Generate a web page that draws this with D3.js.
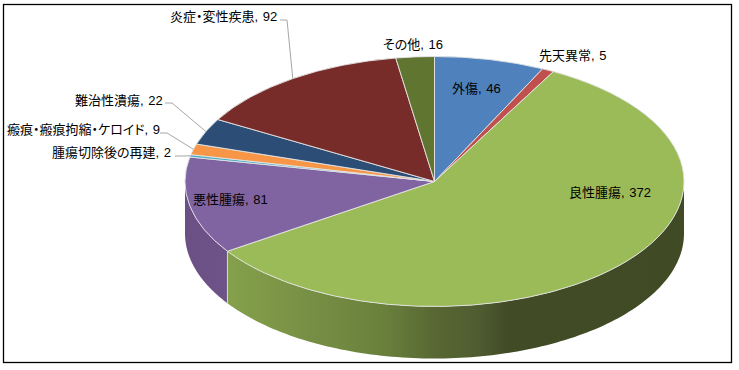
<!DOCTYPE html>
<html lang="ja">
<head>
<meta charset="utf-8">
<style>
html,body{margin:0;padding:0;background:#fff;overflow:hidden}
svg{display:block}
text{font-family:"Liberation Sans","Noto Sans CJK JP",sans-serif;font-size:13px;fill:#000;dominant-baseline:central;text-anchor:start;font-feature-settings:"palt";word-spacing:1px}
</style>
<script src="https://cdn.jsdelivr.net/npm/d3@7"></script>
</head>
<body>
<svg id="c" width="739" height="370"></svg>
<script>
const categories = ["外傷","先天異常","良性腫瘍","悪性腫瘍","腫瘍切除後の再建","瘢痕・瘢痕拘縮・ケロイド","難治性潰瘍","炎症・変性疾患","その他"];
const values = [46,5,372,81,2,9,22,92,16];
const colors = ["#4f81bd","#c0504d","#9bbb59","#8064a2","#4bacc6","#f79646","#2c4d75","#772c2a","#5f7530"];

const W=739,H=370,cx=434.5,cy=181.5,rx=249.5,ry=125,depth=52;
// label left/centre (layout), leader elbow (layout)
const labelPos = [[452,88],[539,55],[569,192],[193,199],[52,152],[7,129],[75,100],[170,16],[383,44]];
const leaderFrom = [null,null,null,null,[175,156],[160,133],[165,103],[280,20],null];
const elbowLen = 7;

const svg=d3.select("#c");
svg.append("rect").attr("x",3.5).attr("y",4.5).attr("width",728).attr("height",358)
  .attr("fill","#fff").attr("stroke","#000").attr("stroke-width",1.3);

const defs=svg.append("defs");
function sideGrad(id,stops){
  const g=defs.append("linearGradient").attr("id",id).attr("gradientUnits","userSpaceOnUse")
    .attr("x1",cx-rx).attr("x2",cx+rx).attr("y1",0).attr("y2",0);
  stops.forEach(s=>g.append("stop").attr("offset",s[0]).attr("stop-color",s[1]));
}
sideGrad("gGreen",[[0,"#8aa84f"],[0.09,"#84a04b"],[0.25,"#778f44"],[0.4,"#69803c"],[0.5,"#586733"],[0.58,"#515d31"],[0.65,"#414b26"],[1,"#404a24"]]);
sideGrad("gPurple",[[0,"#6b5085"],[0.09,"#6e5388"],[1,"#6e5388"]]);

const pie=d3.pie().value(d=>d).sort(null);
const arcs=pie(values);
const px=a=>cx+rx*Math.sin(a), py=a=>cy-ry*Math.cos(a);

// side wall
const lineGen=d3.line().x(d=>d[0]).y(d=>d[1]);
const front=arcs.map((d,i)=>({i,a0:Math.max(d.startAngle,Math.PI/2),a1:Math.min(d.endAngle,3*Math.PI/2)})).filter(d=>d.a1>d.a0);
const fills={2:"url(#gGreen)",3:"url(#gPurple)"};
front.forEach(f=>{
  const n=120, angs=d3.range(n+1).map(k=>f.a0+(f.a1-f.a0)*k/n);
  const pts=angs.map(a=>[px(a),py(a)]).concat(angs.slice().reverse().map(a=>[px(a),py(a)+depth]));
  svg.append("path").attr("d",lineGen(pts)+"Z").attr("fill",fills[f.i]||colors[f.i]);
});
// wall seam
const seam=arcs[2].endAngle;
svg.append("line").attr("x1",px(seam)).attr("x2",px(seam)).attr("y1",py(seam)).attr("y2",py(seam)+depth)
  .attr("stroke","#d8dccf").attr("stroke-width",1);

// top
const arc=d3.arc().innerRadius(0).outerRadius(rx);
svg.append("g").attr("transform",`translate(${cx},${cy}) scale(1,${ry/rx})`)
  .selectAll("path").data(arcs).join("path")
  .attr("d",arc).attr("fill",(d,i)=>colors[i])
  .attr("stroke","#e4e4e4").attr("stroke-width",0.9).attr("vector-effect","non-scaling-stroke");

// leaders
arcs.forEach((d,i)=>{
  if(!leaderFrom[i])return;
  const m=(d.startAngle+d.endAngle)/2, f=leaderFrom[i];
  svg.append("path").attr("d",lineGen([f,[f[0]+elbowLen,f[1]],[px(m),py(m)]]))
    .attr("fill","none").attr("stroke","#a6a6a6").attr("stroke-width",1);
});

// labels
svg.append("g").selectAll("text").data(categories).join("text")
  .attr("x",(d,i)=>labelPos[i][0]).attr("y",(d,i)=>labelPos[i][1])
  .text((d,i)=>d+", "+values[i]);
</script>
</body>
</html>
